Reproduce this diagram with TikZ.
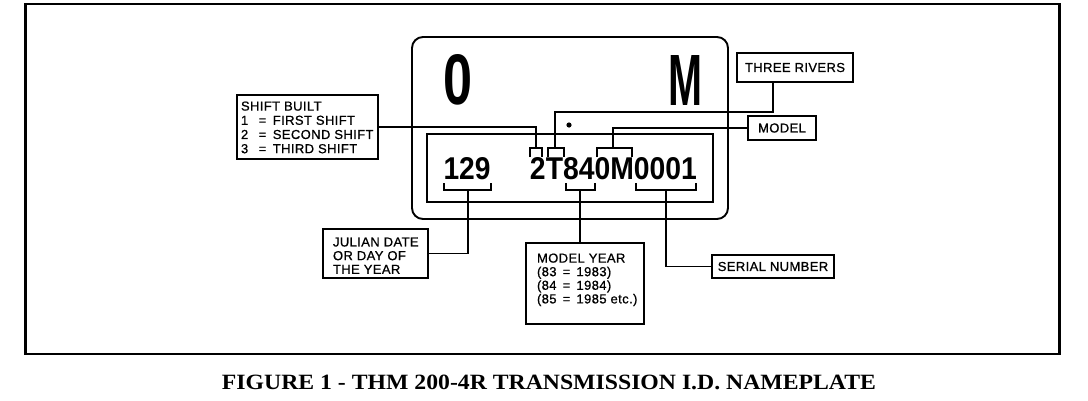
\documentclass[tikz,border=0pt]{standalone}
\usepackage{fontspec}
\usepackage{graphicx}
\setmainfont{Liberation Serif}
\newfontfamily\lf{Liberation Sans}[LetterSpace=3.0, FakeBold=0.8]
\newfontfamily\pf{Liberation Sans}
\newfontfamily\capf{Liberation Serif}
\begin{document}
\begin{tikzpicture}[x=1pt,y=-1pt,
  frame/.style={line width=2.8pt},
  plate/.style={line width=1.9pt, rounded corners=11pt},
  inner/.style={line width=1.4pt},
  lbox/.style={draw, line width=1.4pt, inner sep=0pt, outer sep=0pt, anchor=north west, font=\lf\fontsize{13}{14}\selectfont},
  ltxt/.style={inner sep=0pt, outer sep=0pt, anchor=north west, align=left},
  conn/.style={line width=1.8pt},
  brk/.style={line width=1.3pt},
  big/.style={inner sep=0pt, outer sep=0pt, font=\pf\bfseries}
]
\useasboundingbox (0,0) rectangle (1088,400);
% outer frame
\draw[frame] (25.5,4) rectangle (1059.5,354);
% plate
\draw[plate] (412,37) rectangle (728,219);
\draw[inner] (427,134) rectangle (713,202);
\node[big] (bigO) at (457.5,80) {\resizebox{29pt}{50pt}{0}};
\node[big] (bigM) at (685,80) {\resizebox{34pt}{50pt}{M}};
\fill (569,125) circle (2.6pt);
\node[big] (julnum) at (467,169) {\resizebox{47pt}{22pt}{129}};
\node[big] (code) at (613.5,169) {\resizebox{167pt}{22pt}{2T840M0001}};
% brackets
\coordinate (b2) at (536,148);
\coordinate (bT) at (555,148);
\coordinate (bM) at (613,148);
\coordinate (b129) at (468,190);
\coordinate (b840) at (580,190);
\coordinate (b0001) at (666,190);
\draw[brk] (530,157) -- (530,148) -- (542,148) -- (542,157);
\draw[brk] (548,157) -- (548,148) -- (564,148) -- (564,157);
\draw[brk] (597,157) -- (597,148) -- (632,148) -- (632,157);
\draw[brk] (444,183) -- (444,190) -- (491,190) -- (491,183);
\draw[brk] (566,183) -- (566,190) -- (595,190) -- (595,183);
\draw[brk] (636,183) -- (636,190) -- (696,190) -- (696,183);
% label boxes
\node[lbox, minimum width=141pt, minimum height=64pt] (shift) at (237,95) {};
\node[ltxt, font=\lf\fontsize{13}{14.2}\selectfont] (shifttxt) at (241,101.5)
  {SHIFT BUILT\\1 \enspace=\enspace FIRST SHIFT\\2 \enspace=\enspace SECOND SHIFT\\3 \enspace=\enspace THIRD SHIFT};
\node[lbox, minimum width=116pt, minimum height=29pt] (rivers) at (737,53) {THREE RIVERS};
\node[lbox, minimum width=68pt, minimum height=24pt] (model) at (748,116) {MODEL};
\node[lbox, minimum width=105pt, minimum height=49pt] (julian) at (323,229) {};
\node[ltxt, font=\lf\fontsize{13}{13.7}\selectfont] (juliantxt) at (333,237.5)
  {JULIAN DATE\\OR DAY OF\\THE YEAR};
\node[lbox, minimum width=118pt, minimum height=81pt] (myear) at (526,243) {};
\node[ltxt, font=\lf\fontsize{13}{13.6}\selectfont] (myeartxt) at (537,253.5)
  {MODEL YEAR\\(83 \,=\, 1983)\\(84 \,=\, 1984)\\(85 \,=\, 1985 etc.)};
\node[lbox, minimum width=122pt, minimum height=23pt] (serial) at (712,255) {SERIAL NUMBER};
% connectors
\coordinate (rv) at (773,112);
\draw[conn] (shift.east) -| (b2);
\draw[conn] (rivers.south west -| rv) -- (rv) -| (bT);
\draw[conn] (model.west) -| (bM);
\draw[conn] (b129) |- (julian.east);
\draw[conn] (b840) -- (myear.north -| b840);
\draw[conn] (b0001) |- (serial.west);
% caption
\node[inner sep=0pt] (caption) at (549,382) {\resizebox{654pt}{14.5pt}{\capf\bfseries FIGURE 1 - THM 200-4R TRANSMISSION I.D. NAMEPLATE}};
\end{tikzpicture}
\end{document}
